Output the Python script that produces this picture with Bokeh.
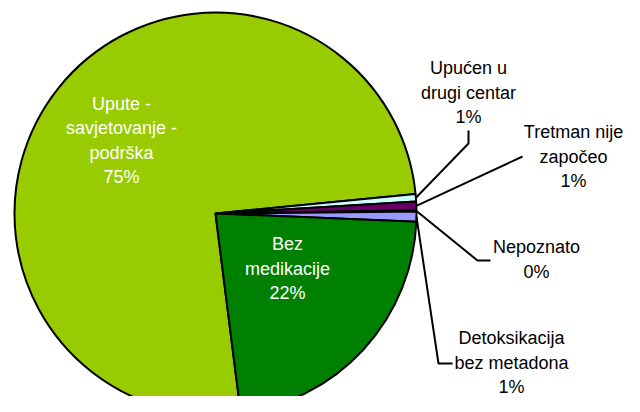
import math
from bokeh.plotting import figure
from bokeh.models import Range1d
from bokeh.embed import file_html
from bokeh.resources import INLINE
from bokeh.core.properties import value

# ---- data ----
categories = ["Upute - savjetovanje - podrška", "Upućen u drugi centar",
              "Tretman nije započeo", "Nepoznato",
              "Detoksikacija bez metadona", "Bez medikacije"]
values = [75.45, 0.6, 0.7, 0.1, 0.8, 22.35]
label_lines = [["Upute -", "savjetovanje -", "podrška"],
               ["Upućen u", "drugi centar"],
               ["Tretman nije", "započeo"],
               ["Nepoznato"],
               ["Detoksikacija", "bez metadona"],
               ["Bez", "medikacije"]]
colors = ["#99CC00", "#CCFFFF", "#660066", "#FF8080", "#9999FF", "#008000"]
text_colors = ["white", "black", "black", "black", "black", "white"]

# ---- layout (reference-pixel positions) ----
W, H = 624, 396
def fx(X): return X
def fy(Y): return H - Y

cx, cy, R = fx(215), fy(213), 201
start_deg = -82.8
label_xy = [(121, 140), (468, 92), (573, 156), (536, 259), (511, 362), (287, 268)]
spacing = 24.5
elbows = {1: (468, 143), 2: (522, 156), 3: (477, 260), 4: (438, 363)}
ends = {1: (468, 130), 2: (522, 156), 3: (490, 260), 4: (452, 363)}

p = figure(width=W, height=H, output_backend="svg", toolbar_location=None,
           x_range=Range1d(0, W), y_range=Range1d(0, H),
           x_axis_type=None, y_axis_type=None, min_border=0)
p.grid.visible = False
p.outline_line_color = None
p.background_fill_color = "white"
p.border_fill_color = "white"

total = sum(values)
a = math.radians(start_deg)
mids = []
for v, c in zip(values, colors):
    th = 2 * math.pi * v / total
    p.wedge(x=cx, y=cy, radius=R, start_angle=a, end_angle=a - th,
            direction="clock", fill_color=c, line_color="black", line_width=2)
    mids.append(a - th / 2)
    a -= th

# leader lines
for i in elbows:
    m = mids[i]
    sx, sy = cx + R * math.cos(m), cy + R * math.sin(m)
    ex, ey = elbows[i]
    tx, ty = ends[i]
    p.line([sx, fx(ex), fx(tx)], [sy, fy(ey), fy(ty)], line_color="black", line_width=2)

# labels
for i, (lines, v) in enumerate(zip(label_lines, values)):
    pct = f"{round(v / total * 100)}%"
    all_lines = lines + [pct]
    n = len(all_lines)
    X, Y = label_xy[i]
    xs, ys = [], []
    for k in range(n):
        xs.append(fx(X))
        ys.append(fy(Y + (k - (n - 1) / 2) * spacing))
    p.text(x=xs, y=ys, text=all_lines, text_align="center", text_baseline="middle",
           text_font=value("Liberation Sans"), text_font_size="18px",
           text_color=text_colors[i])

open("out.html", "w").write(file_html(p, INLINE))
